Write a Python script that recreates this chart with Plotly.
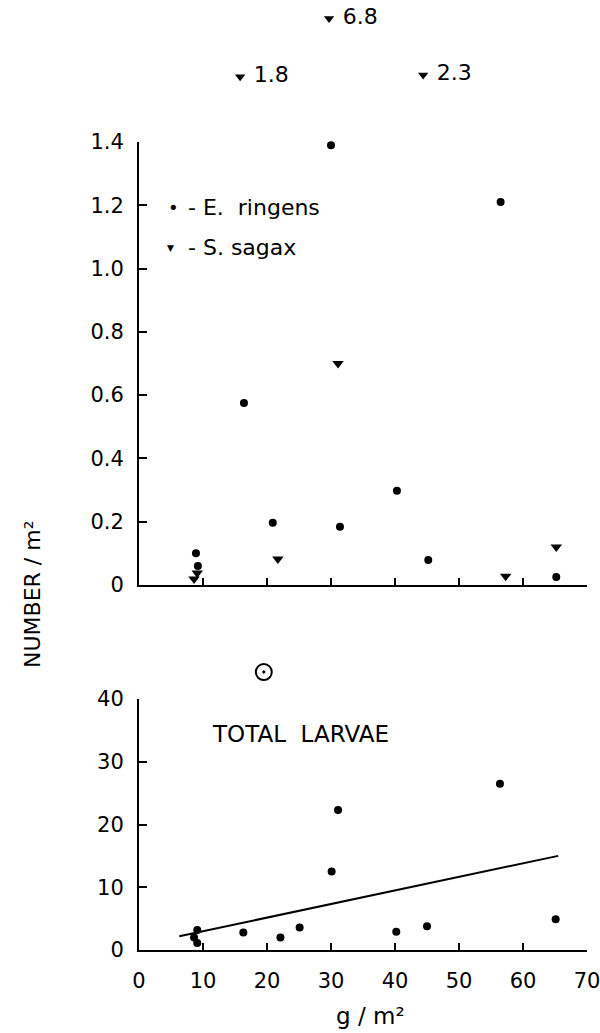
import plotly.graph_objects as go

# ---------------- data ----------------
# Top panel: E. ringens (dots)
ringens_x = [8.9, 9.2, 16.4, 20.9, 30.0, 31.4, 40.3, 45.2, 56.5, 65.2]
ringens_y = [0.10, 0.06, 0.575, 0.197, 1.39, 0.184, 0.298, 0.079, 1.21, 0.025]

# Top panel: S. sagax (triangles)
sagax_x = [8.6, 9.1, 21.7, 31.1, 57.3, 65.2]
sagax_y = [0.019, 0.038, 0.082, 0.70, 0.028, 0.12]

# S. sagax values off the scale (drawn above the panel with their value)
off_x = [15.8, 29.7, 44.4]
off_values = [1.8, 6.8, 2.3]
off_display_y = [1.606, 1.79, 1.612]

# Bottom panel: total larvae
total_x = [9.1, 8.6, 9.1, 16.3, 22.1, 25.1, 30.1, 31.1, 40.2, 45.0, 56.4, 65.1]
total_y = [3.2, 2.0, 1.1, 2.8, 2.0, 3.6, 12.5, 22.3, 2.9, 3.8, 26.5, 4.9]
circled_x = [19.5]
circled_y = [44.3]

# regression line for total larvae
trend_x = [6.3, 65.5]
trend_intercept = 0.838
trend_slope = 0.2162
trend_y = [trend_intercept + trend_slope * v for v in trend_x]

top_yticks = [0, 0.2, 0.4, 0.6, 0.8, 1.0, 1.2, 1.4]
top_yticktext = ["0", "0.2", "0.4", "0.6", "0.8", "1.0", "1.2", "1.4"]
bot_yticks = [0, 10, 20, 30, 40]
xticks = [0, 10, 20, 30, 40, 50, 60, 70]

FONT = "DejaVu Sans"
W, H = 600, 1033

def px_x(p):
    return p / W

def px_y(p):
    return 1 - p / H

# pixel geometry of the panels
X0, X1 = 139, 587            # x = 0 .. 70
T0, T1 = 585, 142            # top panel y = 0 .. 1.4
B0, B1 = 950, 699            # bottom panel y = 0 .. 40
top_scale = (T0 - T1) / 1.4  # px per unit
bot_scale = (B0 - B1) / 40.0

fig = go.Figure()

fig.add_trace(go.Scatter(x=ringens_x, y=ringens_y, mode="markers",
                         marker=dict(symbol="circle", size=8, color="black"),
                         xaxis="x", yaxis="y", showlegend=False, cliponaxis=False))
fig.add_trace(go.Scatter(x=sagax_x, y=sagax_y, mode="markers",
                         marker=dict(symbol="triangle-down", size=10, color="black"),
                         xaxis="x", yaxis="y", showlegend=False, cliponaxis=False))
# off-scale values on an extended (hidden) axis with the same scale
fig.add_trace(go.Scatter(x=off_x, y=off_display_y, mode="markers+text",
                         text=[f" {v:.1f}" for v in off_values],
                         textposition="middle right",
                         textfont=dict(family=FONT, size=22, color="black"),
                         marker=dict(symbol="triangle-down", size=9, color="black"),
                         xaxis="x3", yaxis="y3", showlegend=False, cliponaxis=False))

fig.add_trace(go.Scatter(x=trend_x, y=trend_y, mode="lines",
                         line=dict(color="black", width=2),
                         xaxis="x2", yaxis="y2", showlegend=False, cliponaxis=False))
fig.add_trace(go.Scatter(x=total_x, y=total_y, mode="markers",
                         marker=dict(symbol="circle", size=8, color="black"),
                         xaxis="x2", yaxis="y2", showlegend=False, cliponaxis=False))
fig.add_trace(go.Scatter(x=circled_x, y=circled_y, mode="markers",
                         marker=dict(symbol="circle-open-dot", size=16, color="black",
                                     line=dict(width=2, color="black")),
                         xaxis="x4", yaxis="y4", showlegend=False, cliponaxis=False))

axis_common = dict(showgrid=False, zeroline=False, showline=True, linecolor="black",
                   linewidth=2, ticks="inside", tickcolor="black", tickwidth=2,
                   ticklabeloverflow="allow", automargin=False,
                   tickfont=dict(family=FONT, size=21, color="black"))
hidden = dict(visible=False, showgrid=False, zeroline=False, automargin=False)

xdom = [px_x(X0), px_x(X1)]
fig.update_layout(
    width=W, height=H,
    margin=dict(l=0, r=0, t=0, b=0, autoexpand=False),
    paper_bgcolor="white", plot_bgcolor="rgba(0,0,0,0)",
    xaxis=dict(domain=xdom, range=[0, 70], anchor="y", tickvals=xticks[1:],
               showticklabels=False, ticklen=7, **axis_common),
    yaxis=dict(domain=[px_y(T0), px_y(T1)], range=[0, 1.4], anchor="x",
               tickvals=top_yticks, ticktext=top_yticktext, ticklen=8,
               ticklabelstandoff=9, **axis_common),
    xaxis2=dict(domain=xdom, range=[0, 70], anchor="y2", tickvals=xticks,
                ticklen=7, ticklabelstandoff=11, **axis_common),
    yaxis2=dict(domain=[px_y(B0), px_y(B1)], range=[0, 40], anchor="x2",
                tickvals=bot_yticks, ticklen=8, ticklabelstandoff=9, **axis_common),
    xaxis3=dict(domain=xdom, range=[0, 70], anchor="y3", **hidden),
    yaxis3=dict(domain=[px_y(T0), 1.0], range=[0, T0 / top_scale], anchor="x3", **hidden),
    xaxis4=dict(domain=xdom, range=[0, 70], anchor="y4", **hidden),
    yaxis4=dict(domain=[px_y(B0), px_y(640)], range=[0, (B0 - 640) / bot_scale],
                anchor="x4", **hidden),
)

ann_font = dict(family=FONT, size=22, color="black")
annotations = [
    # legend
    dict(text="•", x=px_x(173), y=px_y(207), xanchor="center", yanchor="middle",
         font=dict(family=FONT, size=18, color="black")),
    dict(text="- E.  ringens", x=px_x(186), y=px_y(207), xanchor="left", yanchor="middle",
         font=ann_font),
    dict(text="▼", x=px_x(171), y=px_y(248), xanchor="center", yanchor="middle",
         font=dict(family=FONT, size=9, color="black")),
    dict(text="- S. sagax", x=px_x(186), y=px_y(248), xanchor="left", yanchor="middle",
         font=ann_font),
    # bottom panel label
    dict(text="TOTAL  LARVAE", x=px_x(300), y=px_y(734), xanchor="center", yanchor="middle",
         font=dict(family=FONT, size=23, color="black")),
    # axis titles
    dict(text="g / m²", x=px_x(370), y=px_y(1016), xanchor="center", yanchor="middle",
         font=dict(family=FONT, size=23, color="black")),
    dict(text="NUMBER / m²", x=px_x(32), y=px_y(595), xanchor="center", yanchor="middle",
         textangle=-90, font=dict(family=FONT, size=22, color="black")),
]
for a in annotations:
    a.update(xref="paper", yref="paper", showarrow=False)
fig.update_layout(annotations=annotations)

fig.write_html("out.html")
